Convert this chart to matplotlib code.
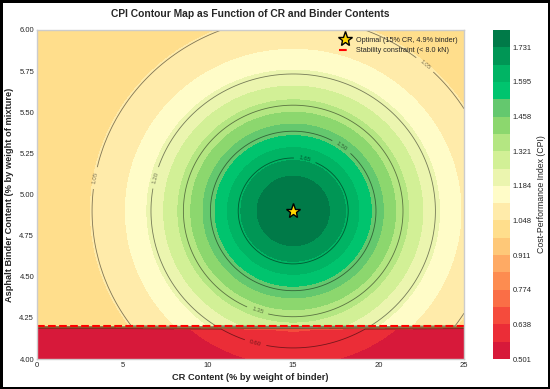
import matplotlib.pyplot as plt
import numpy as np
from matplotlib.colors import ListedColormap

cr_opt = 15.0
binder_opt = 4.9
cpi_base = 1.0
cpi_gain = 0.8
cr_spread = 50.0
binder_spread = 0.5
binder_limit = 4.2
penalty = 0.5

cr = np.linspace(0, 25, 100)
binder = np.linspace(4.0, 6.0, 100)
line_levels = [0.60, 0.75, 0.90, 1.05, 1.20, 1.35, 1.50, 1.65]

# Colores de las bandas (de abajo hacia arriba)
band_colors = ['#d7193a', '#eb2d37', '#f54b3c', '#fa6e46', '#fd8c50', '#feaa64',
               '#fec878', '#ffde8c', '#ffebaa', '#fffcc8', '#ebf5af', '#d2f096',
               '#b4e682', '#8cd76e', '#64c86e', '#00c46e', '#00b464', '#009655',
               '#007a48']

CR, B = np.meshgrid(cr, binder)
CPI = cpi_base + cpi_gain * np.exp(-((CR - cr_opt) ** 2 / cr_spread
                                     + (B - binder_opt) ** 2 / binder_spread))
CPI = np.where(B < binder_limit, CPI * penalty, CPI)

plt.style.use('seaborn-v0_8-whitegrid')
fig = plt.figure(figsize=(5.5, 3.89), dpi=100, edgecolor='black', linewidth=2.5)
ax = fig.add_axes([0.0673, 0.0771, 0.7763, 0.8458])
cax = fig.add_axes([0.896, 0.0771, 0.031, 0.8458])

levels = np.linspace(CPI.min(), CPI.max(), 20)
cf = ax.contourf(CR, B, CPI, levels=levels, cmap=ListedColormap(band_colors))
cs = ax.contour(CR, B, CPI, levels=line_levels, colors='black', linewidths=0.6, alpha=0.5)
ax.clabel(cs, inline=True, fontsize=4.5, fmt='%.2f',
          manual=[(3.4, 5.1), (22.8, 5.8), (7.0, 5.1), (12.9, 4.29),
                  (17.9, 5.3), (15.7, 5.22), (12.8, 4.1)])

ax.plot(cr_opt, binder_opt, marker='*', color='gold', markersize=11,
        markeredgecolor='black', markeredgewidth=1, linestyle='none',
        label='Optimal (15% CR, 4.9% binder)')
ax.axhline(binder_limit, color='red', linestyle='--', linewidth=1.5,
           label='Stability constraint (< 8.0 kN)')

ax.set_xlim(0, 25)
ax.set_ylim(4.0, 6.0)
ax.set_title('CPI Contour Map as Function of CR and Binder Contents',
             fontsize=7.4, fontweight='bold', pad=9)
ax.set_xlabel('CR Content (% by weight of binder)', fontsize=6.7, fontweight='bold', labelpad=3)
ax.set_ylabel('Asphalt Binder Content (% by weight of mixture)', fontsize=6.7,
              fontweight='bold', labelpad=4)
ax.tick_params(labelsize=5.5, pad=2)
ax.legend(loc='upper right', fontsize=5.2, frameon=False, handlelength=1.5)

cb = fig.colorbar(cf, cax=cax, ticks=levels[::2], format='%.3f')
cb.set_label('Cost-Performance Index (CPI)', fontsize=6.3)
cb.ax.tick_params(labelsize=5.5, pad=2)
cb.outline.set_visible(False)

fig.savefig('out.png', dpi=100)
